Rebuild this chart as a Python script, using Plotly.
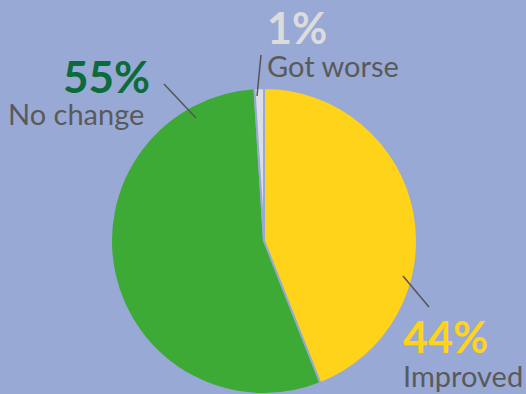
import plotly.graph_objects as go

# Survey outcome shares
categories = ["Improved", "No change", "Got worse"]
shares = [44, 55, 1]
slice_colors = ["#FFD31A", "#3EAA36", "#DADDE6"]
pct_colors = ["#FFD31A", "#0B6B3A", "#DCDCDC"]

W, H = 526, 394
BG = "#98A9D6"
GREY_TEXT = "#5A5A5A"


def px(x):
    return x / W


def py(y):
    return 1 - y / H


fig = go.Figure(
    go.Pie(
        labels=categories,
        values=shares,
        sort=False,
        direction="clockwise",
        rotation=0,
        marker=dict(colors=slice_colors, line=dict(color=BG, width=2)),
        textinfo="none",
        hoverinfo="label+percent",
        domain=dict(x=[px(111), px(417)], y=[0, py(88)]),
        showlegend=False,
    )
)

# label layout: (percent-label position, category-label position, leader line)
label_pos = {
    "No change": dict(pct=(61, 76), cat=(6, 114), line=((164, 84), (196, 118))),
    "Got worse": dict(pct=(265, 27), cat=(265, 65), line=((261, 55), (257, 96))),
    "Improved": dict(pct=(401, 336), cat=(401, 375), line=((403, 276), (429, 307))),
}

annotations = []
shapes = []
for cat, val, col in zip(categories, shares, pct_colors):
    p = label_pos[cat]
    annotations.append(dict(
        x=px(p["pct"][0]), y=py(p["pct"][1]), xref="paper", yref="paper",
        xanchor="left", yanchor="middle", showarrow=False,
        text=f"<b>{val}%</b>",
        font=dict(family="Lato", size=44 if cat == "No change" else 43, color=col),
    ))
    annotations.append(dict(
        x=px(p["cat"][0]), y=py(p["cat"][1]), xref="paper", yref="paper",
        xanchor="left", yanchor="middle", showarrow=False,
        text=cat,
        font=dict(family="Lato", size=29, color=GREY_TEXT),
    ))
    (x0, y0), (x1, y1) = p["line"]
    shapes.append(dict(
        type="line", xref="paper", yref="paper",
        x0=px(x0), y0=py(y0), x1=px(x1), y1=py(y1),
        line=dict(color="#555555", width=1.5),
    ))

fig.update_layout(
    width=W, height=H,
    margin=dict(l=0, r=0, t=0, b=0),
    paper_bgcolor=BG, plot_bgcolor=BG,
    annotations=annotations, shapes=shapes,
)

fig.write_html("out.html")
